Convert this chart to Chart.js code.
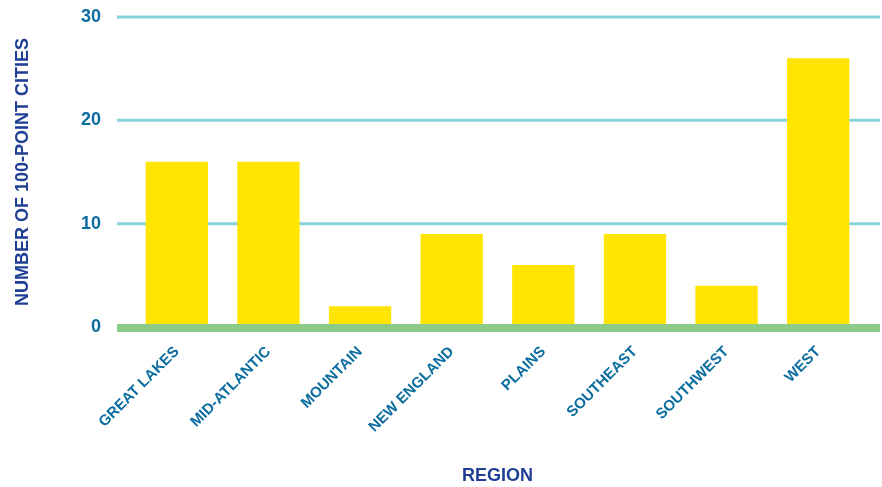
<!DOCTYPE html>
<html>
<head>
<meta charset="utf-8">
<script src="https://cdn.jsdelivr.net/npm/chart.js@4"></script>
<style>
html,body{margin:0;padding:0;background:#fff;}
#wrap{width:882px;height:487px;}
</style>
</head>
<body>
<div id="wrap"><canvas id="c" width="882" height="487"></canvas></div>
<script>
const categories = ["GREAT LAKES","MID-ATLANTIC","MOUNTAIN","NEW ENGLAND","PLAINS","SOUTHEAST","SOUTHWEST","WEST"];
const cityCounts = [16,16,2,9,6,9,4,26];
const yTicks = [0,10,20,30];

const linesPlugin = {
  id: 'extLines',
  beforeDatasetsDraw(chart) {
    const ctx = chart.ctx, y = chart.scales.y;
    ctx.save();
    ctx.strokeStyle = '#86d2db';
    ctx.lineWidth = 3;
    yTicks.forEach(v => {
      if (v === 0) return;
      const py = y.getPixelForValue(v);
      ctx.beginPath(); ctx.moveTo(117, py); ctx.lineTo(880, py); ctx.stroke();
    });
    ctx.restore();
  },
  afterDatasetsDraw(chart) {
    const ctx = chart.ctx, y = chart.scales.y;
    const py = y.getPixelForValue(0) + 1;
    ctx.save();
    ctx.strokeStyle = '#8ccb87';
    ctx.lineWidth = 8;
    ctx.beginPath(); ctx.moveTo(117, py); ctx.lineTo(880, py); ctx.stroke();
    ctx.restore();
  }
};

new Chart(document.getElementById('c'), {
  type: 'bar',
  data: {
    labels: categories,
    datasets: [{
      data: cityCounts,
      backgroundColor: '#ffe500',
      borderWidth: 0,
      barPercentage: 0.68,
      categoryPercentage: 1.0
    }]
  },
  options: {
    responsive: false,
    animation: false,
    devicePixelRatio: 1,
    layout: { padding: { top: 17, right: 18, left: 0, bottom: 0 } },
    plugins: { legend: { display: false }, tooltip: { enabled: false } },
    scales: {
      x: {
        grid: { display: false, drawTicks: false },
        border: { display: false },
        ticks: {
          color: '#0b6d9f',
          font: { family: 'Liberation Sans', size: 15, weight: 'bold' },
          minRotation: 45, maxRotation: 45,
          padding: 16,
          autoSkip: false
        },
        title: {
          display: true,
          text: 'REGION',
          color: '#1f3f94',
          font: { family: 'Liberation Sans', size: 18, weight: 'bold' },
          padding: { top: 0, bottom: 0 }
        },
        afterFit(scale) { scale.height = 160; scale.paddingLeft = 0; scale.paddingRight = 0; }
      },
      y: {
        min: 0, max: 30,
        afterBuildTicks(scale) { scale.ticks = yTicks.map(v => ({ value: v })); },
        grid: { display: false, drawTicks: false },
        border: { display: false },
        ticks: {
          color: '#0b6d9f',
          font: { family: 'Liberation Sans', size: 18, weight: 'bold' },
          padding: 30
        },
        title: {
          display: true,
          text: 'NUMBER OF 100-POINT CITIES',
          color: '#1f3f94',
          font: { family: 'Liberation Sans', size: 18, weight: 'bold' },
          padding: { top: 12, bottom: 0 }
        },
        afterFit(scale) { scale.width = 131; scale.paddingTop = 0; scale.paddingBottom = 0; }
      }
    }
  },
  plugins: [linesPlugin]
});
</script>
</body>
</html>
